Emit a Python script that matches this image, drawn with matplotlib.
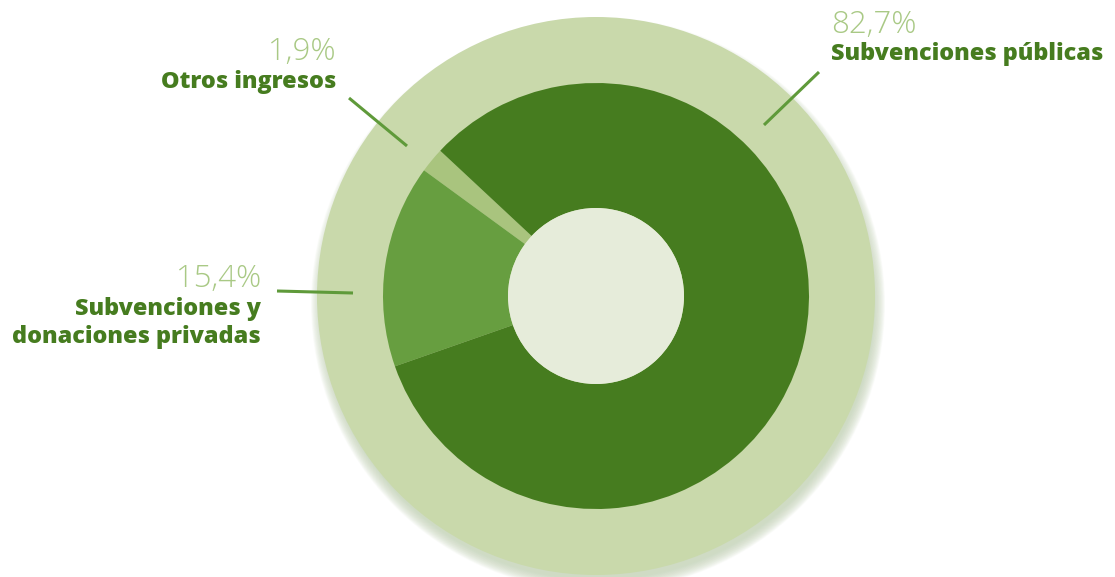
import matplotlib
matplotlib.use("Agg")
import matplotlib.pyplot as plt
from matplotlib.patches import Circle

labels = ["Otros ingresos", "Subvenciones y\ndonaciones privadas", "Subvenciones públicas"]
values = [1.9, 15.4, 82.7]
pct_labels = ["1,9%", "15,4%", "82,7%"]
colors = ["#a9c47e", "#679e40", "#467c1f"]

W, H = 1115, 577
fig = plt.figure(figsize=(W / 100, H / 100), dpi=100)
ax = fig.add_axes([0, 0, 1, 1])

cx, cy = 596, H - 296
R_out, R_pie, R_in = 279, 213, 88

# soft shadow (mostly below)
n = 20
for i in range(n):
    ax.add_patch(Circle((cx + 2, cy - 8), R_out + 8 - i * 0.6, color="#c2d2b4",
                        alpha=0.06, lw=0, zorder=0))
ax.add_patch(Circle((cx, cy), R_out, color="#c9d9ab", lw=0, zorder=1))

ax.pie(values, colors=colors, startangle=137, counterclock=True, center=(cx, cy),
       radius=R_pie, wedgeprops=dict(linewidth=0, width=R_pie - R_in), frame=True)
ax.set_xlim(0, W)
ax.set_ylim(0, H)
ax.set_aspect("equal")
ax.axis("off")
ax.add_patch(Circle((cx, cy), R_in, color="#e6ecda", lw=0, zorder=3))

line_col = "#5f9a3a"
def px(x, y):
    return x, H - y

# leader lines
for (x1, y1), (x2, y2) in [((349, 98), (407, 146)), ((277, 291), (353, 293)), ((764, 125), (819, 72))]:
    ax.plot([x1, x2], [H - y1, H - y2], color=line_col, lw=2.2, solid_capstyle="butt", zorder=5)

pct_col = "#a9c985"
lab_col = "#467c1f"
pfont = dict(family="Open Sans", weight="light", size=22.5, color=pct_col)
lfont = dict(family="Open Sans", weight="extra bold", size=16.8, color=lab_col)

# Otros ingresos
ax.text(*px(336, 60), pct_labels[0], ha="right", va="baseline", **pfont)
ax.text(*px(336, 88), labels[0], ha="right", va="baseline", **lfont)
# Privadas
ax.text(*px(261, 287), pct_labels[1], ha="right", va="baseline", **pfont)
ax.text(*px(261, 315), "Subvenciones y", ha="right", va="baseline", **lfont)
ax.text(*px(261, 343), "donaciones privadas", ha="right", va="baseline", **lfont)
# Públicas
ax.text(*px(831, 33), pct_labels[2], ha="left", va="baseline", **pfont)
ax.text(*px(831, 60), labels[2], ha="left", va="baseline", **lfont)

fig.savefig("out.png", dpi=100)
